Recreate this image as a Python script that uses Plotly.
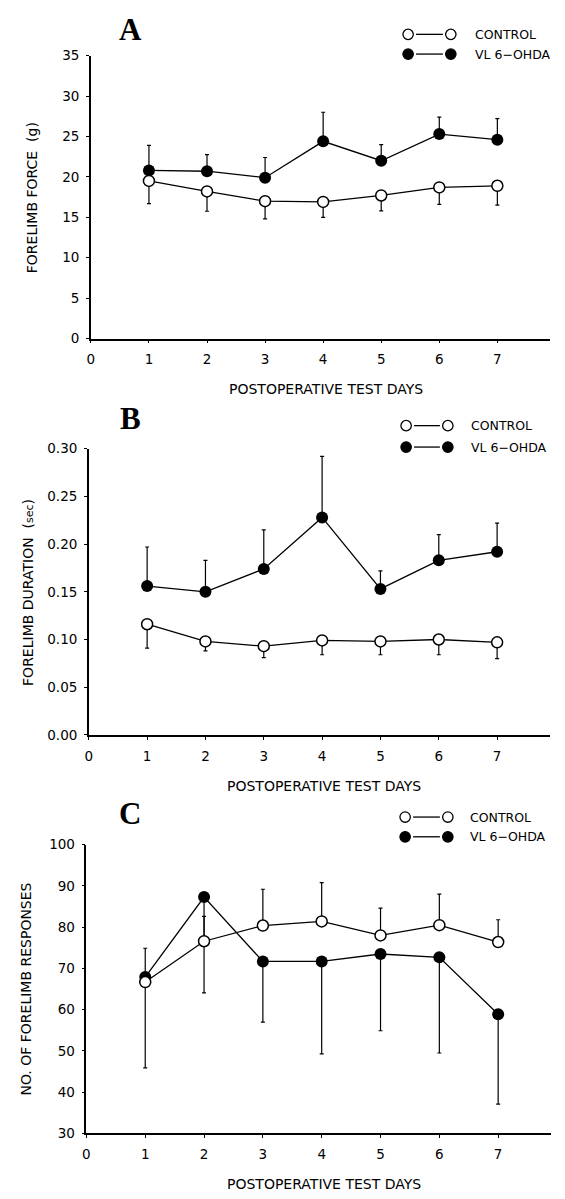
import plotly.graph_objects as go

W, H = 565, 1199

days = [1, 2, 3, 4, 5, 6, 7]
x_ticks = [0, 1, 2, 3, 4, 5, 6, 7]

# Panel A: forelimb force (g)
a_control = [19.5, 18.2, 17.0, 16.9, 17.7, 18.7, 18.9]
a_control_err = [2.8, 2.45, 2.2, 1.9, 1.9, 2.1, 2.4]
a_lesion = [20.8, 20.7, 19.9, 24.4, 22.0, 25.3, 24.6]
a_lesion_err = [3.1, 2.05, 2.5, 3.6, 2.0, 2.1, 2.6]
a_yticks = [0, 5, 10, 15, 20, 25, 30, 35]

# Panel B: forelimb duration (sec)
b_control = [0.116, 0.098, 0.093, 0.099, 0.098, 0.100, 0.097]
b_control_err = [0.025, 0.010, 0.012, 0.015, 0.014, 0.016, 0.017]
b_lesion = [0.156, 0.150, 0.174, 0.228, 0.153, 0.183, 0.192]
b_lesion_err = [0.041, 0.033, 0.041, 0.064, 0.019, 0.027, 0.030]
b_yticks = [0.00, 0.05, 0.10, 0.15, 0.20, 0.25, 0.30]

# Panel C: number of forelimb responses
c_control = [66.7, 76.6, 80.4, 81.4, 78.0, 80.5, 76.4]
c_control_err = [8.2, 6.0, 8.8, 9.4, 6.6, 7.5, 5.4]
c_lesion = [67.9, 87.3, 71.7, 71.7, 73.5, 72.7, 58.9]
c_lesion_err = [22.0, 23.2, 14.7, 22.4, 18.6, 23.2, 21.8]
c_yticks = [30, 40, 50, 60, 70, 80, 90, 100]

FONT = "DejaVu Sans"


def px(x, y):
    return x / W, 1 - y / H


fig = go.Figure()

zeros = [0] * 7


def add_pair(ctrl, ctrl_err, les, les_err, ax, ctrl_up):
    xa = "x" if ax == 1 else f"x{ax}"
    ya = "y" if ax == 1 else f"y{ax}"
    if ctrl_up:
        ce = dict(type="data", symmetric=False, array=ctrl_err, arrayminus=zeros,
                  color="black", thickness=1.2, width=2)
        le = dict(type="data", symmetric=False, array=zeros, arrayminus=les_err,
                  color="black", thickness=1.2, width=2)
    else:
        ce = dict(type="data", symmetric=False, array=zeros, arrayminus=ctrl_err,
                  color="black", thickness=1.2, width=2)
        le = dict(type="data", symmetric=False, array=les_err, arrayminus=zeros,
                  color="black", thickness=1.2, width=2)
    fig.add_trace(go.Scatter(
        x=days, y=les, mode="lines+markers", xaxis=xa, yaxis=ya,
        line=dict(color="black", width=1.3),
        marker=dict(symbol="circle", size=12, color="black"),
        error_y=le, showlegend=False, cliponaxis=False))
    fig.add_trace(go.Scatter(
        x=days, y=ctrl, mode="lines+markers", xaxis=xa, yaxis=ya,
        line=dict(color="black", width=1.3),
        marker=dict(symbol="circle", size=11, color="white",
                    line=dict(color="black", width=1.5)),
        error_y=ce, showlegend=False, cliponaxis=False))


add_pair(a_control, a_control_err, a_lesion, a_lesion_err, 1, ctrl_up=False)
add_pair(b_control, b_control_err, b_lesion, b_lesion_err, 2, ctrl_up=False)
add_pair(c_control, c_control_err, c_lesion, c_lesion_err, 3, ctrl_up=True)

axis_common = dict(showline=True, linecolor="black", linewidth=1.5, ticks="outside",
                   ticklen=3, tickwidth=1.2, tickcolor="black", showgrid=False,
                   zeroline=False, tickfont=dict(family=FONT, size=13.5, color="black"))

panels = [
    dict(x0=87.5, x1=549.5, top=48.3, bot=335.0, yr=[0, 35], yt=a_yticks, fmt="d"),
    dict(x0=85.4, x1=549.5, top=446.7, bot=736.7, yr=[0, 0.30], yt=b_yticks, fmt=".2f"),
    dict(x0=83.0, x1=551.0, top=848.0, bot=1140.7, yr=[30, 100], yt=c_yticks, fmt="d"),
]

layout = dict(width=W, height=H, margin=dict(l=0, r=0, t=0, b=0),
              paper_bgcolor="white", plot_bgcolor="white", showlegend=False)

for i, p in enumerate(panels, start=1):
    xk = "xaxis" if i == 1 else f"xaxis{i}"
    yk = "yaxis" if i == 1 else f"yaxis{i}"
    ya = "y" if i == 1 else f"y{i}"
    xa = "x" if i == 1 else f"x{i}"
    layout[xk] = dict(axis_common, domain=[p["x0"] / W, p["x1"] / W], range=[0, 7.9],
                      tickvals=x_ticks, anchor=ya, ticklabelstandoff=5)
    layout[yk] = dict(axis_common, domain=[1 - p["bot"] / H, 1 - p["top"] / H],
                      range=p["yr"], tickvals=p["yt"], tickformat=p["fmt"], anchor=xa,
                      ticklabelstandoff=4)

fig.update_layout(**layout)

ann = []


def text(x, y, s, size=13, family=FONT, angle=0, xanchor="center"):
    xx, yy = px(x, y)
    ann.append(dict(x=xx, y=yy, xref="paper", yref="paper", text=s, showarrow=False,
                    textangle=angle, xanchor=xanchor, yanchor="middle",
                    font=dict(family=family, size=size, color="black")))


# Panel letters
text(127, 22, "<b>A</b>", size=31, family="Liberation Serif")
text(127, 416, "<b>B</b>", size=31, family="Liberation Serif")
text(127, 816, "<b>C</b>", size=31, family="Liberation Serif")

# Axis titles
text(324, 386, "POSTOPERATIVE TEST DAYS", size=14)
text(322, 789, "POSTOPERATIVE TEST DAYS", size=14)
text(322, 1192, "POSTOPERATIVE TEST DAYS", size=14)
text(29, 192, "FORELIMB FORCE  (g)", size=14, angle=-90)
text(24, 592, "FORELIMB DURATION  (<span style='font-size:11px'>sec</span>)", size=14, angle=-90)
text(22, 994, "NO. OF FORELIMB RESPONSES", size=14, angle=-90)

shapes = []


def legend(y1, y2, cx1, cx2, tx):
    for yy, filled, label in [(y1, False, "CONTROL"), (y2, True, "VL 6\u2212OHDA")]:
        for cx in (cx1, cx2):
            xa, ya = px(cx, yy)
            shapes.append(dict(type="circle", xref="paper", yref="paper",
                               xsizemode="pixel", ysizemode="pixel",
                               xanchor=xa, yanchor=ya, x0=-5.2, x1=5.2, y0=-5.2, y1=5.2,
                               line=dict(color="black", width=1.3),
                               fillcolor="black" if filled else "white"))
        la, lb = px(cx1 + 8, yy)
        lc, ld = px(cx2 - 8, yy)
        shapes.append(dict(type="line", xref="paper", yref="paper", x0=la, y0=lb, x1=lc, y1=ld,
                           line=dict(color="black", width=1.3)))
        text(tx, yy, label, size=12.5, xanchor="left")


legend(26.7, 46.7, 407, 450, 472)
legend(423.3, 445, 405, 447, 468)
legend(820, 840, 404, 447, 467)

fig.update_layout(annotations=ann, shapes=shapes)

fig.write_html("out.html")
